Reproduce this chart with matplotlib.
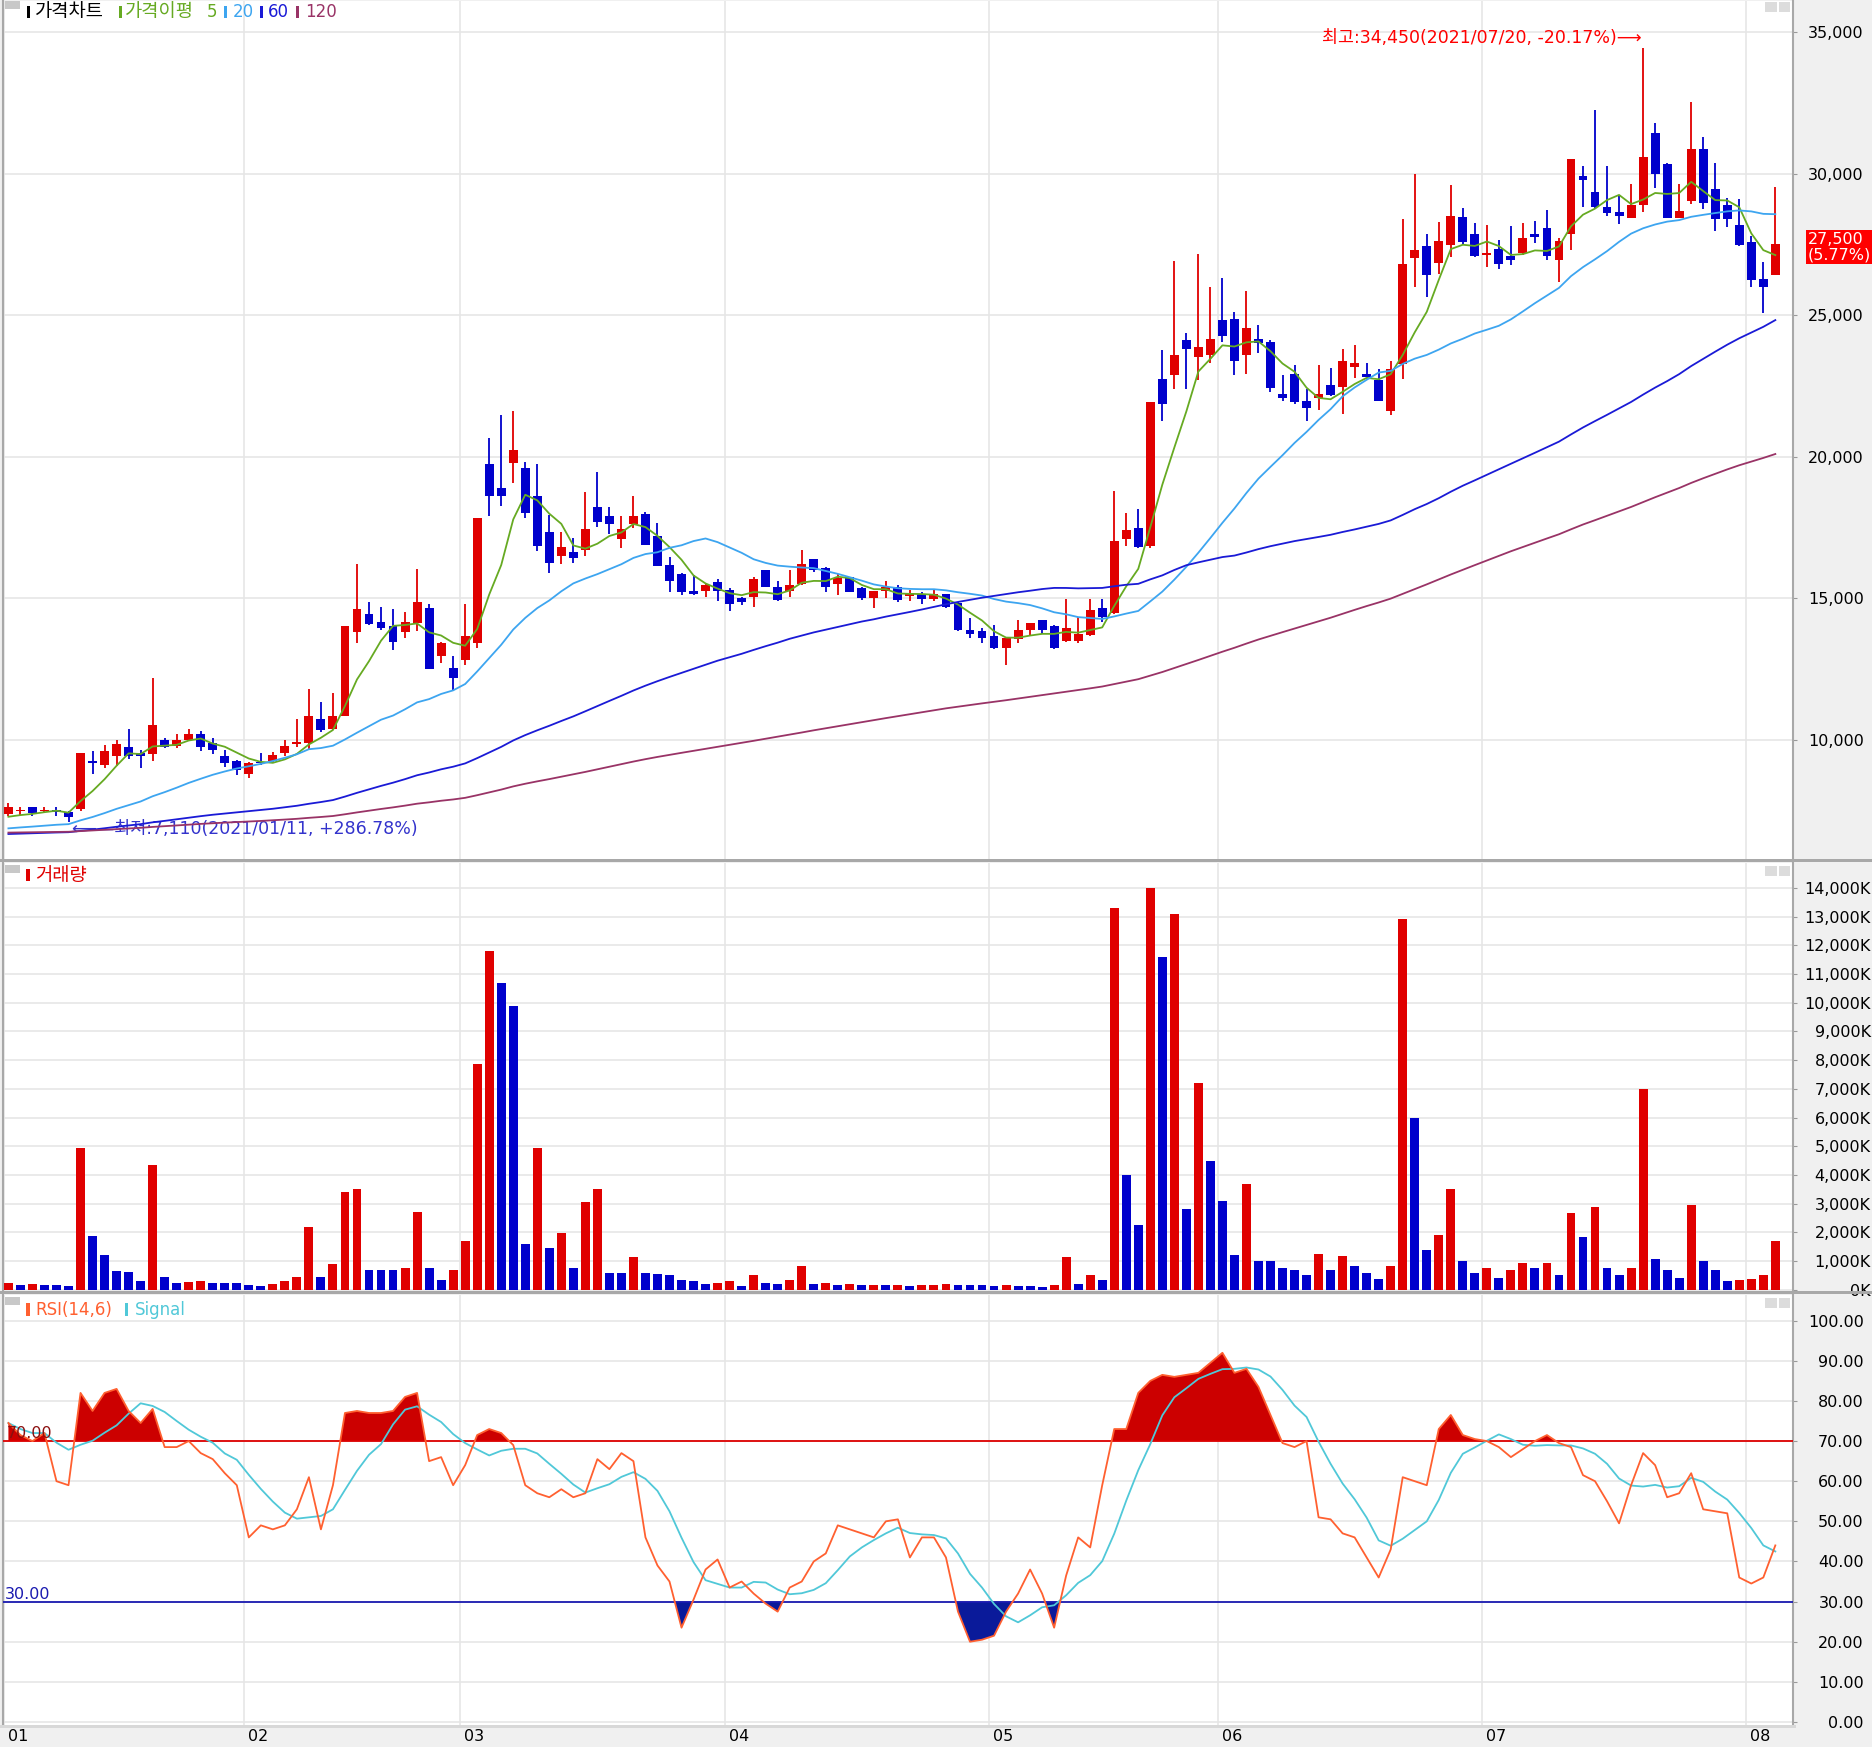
import numpy as np
import pandas as pd
import matplotlib
matplotlib.use("Agg")
import matplotlib.pyplot as plt
from matplotlib import font_manager
from matplotlib.patches import Rectangle

# ---- values -----------------------------------------------------------
month_labels = ["01", "02", "03", "04", "05", "06", "07", "08"]
month_start = [0, 20, 38, 60, 82, 101, 123, 145]  # bar index of first session

opens = [7400, 7480, 7620, 7490, 7540, 7460, 7570, 9230, 9130, 9450,
         9740, 9540, 9500, 10000, 9800, 10000, 10210, 9890, 9420, 9270,
         8810, 9240, 9270, 9540, 9870, 9890, 10730, 10380, 10850, 13830,
         14440, 14180, 14020, 13830, 14140, 14650, 12980, 12540, 12840, 13430,
         19750, 18900, 19790, 19590, 18600, 17350, 16490, 16640, 16700, 18210,
         17920, 17080, 17630, 17980, 17200, 16190, 15870, 15270, 15250, 15570,
         15310, 15000, 15040, 15990, 15420, 15250, 15510, 16380, 16070, 15510,
         15750, 15370, 15010, 15270, 15420, 15080, 15150, 14980, 15150, 14830,
         13900, 13840, 13660, 13250, 13560, 13870, 14220, 14030, 13500, 13500,
         13720, 14650, 14490, 17100, 17500, 16840, 22750, 22900, 24140, 23520,
         23580, 24820, 24880, 23580, 24170, 24070, 22210, 22920, 21960, 22090,
         22550, 22470, 23170, 22940, 22700, 21630, 23290, 27010, 27440, 26840,
         27490, 28460, 27870, 27130, 27340, 27100, 27190, 27870, 28090, 26950,
         27870, 29910, 29350, 28820, 28660, 28440, 28880, 31420, 30330, 28440,
         29050, 30860, 29470, 28900, 28200, 27580, 26280, 26420]
highs = [7770, 7650, 7640, 7620, 7640, 7500, 9540, 9600, 9810, 10000,
         10380, 9650, 12180, 10060, 10210, 10380, 10320, 10060, 9630, 9300,
         9220, 9530, 9560, 10000, 10730, 11800, 11330, 11650, 14020, 16200,
         14880, 14710, 14610, 14510, 16030, 14800, 13470, 12960, 14800, 17830,
         20680, 21490, 21630, 19820, 19760, 17950, 17350, 17140, 18740, 19460,
         18210, 17920, 18620, 18060, 17670, 16460, 15890, 15830, 15530, 15670,
         15360, 15040, 15750, 16010, 15630, 16010, 16700, 16400, 16100, 15870,
         15770, 15390, 15270, 15630, 15490, 15290, 15230, 15330, 15170, 14860,
         14300, 13970, 14070, 13590, 14250, 14120, 14220, 14070, 14980, 14340,
         14980, 14980, 18800, 18000, 18160, 21930, 23760, 26900, 24360, 27150,
         26000, 26300, 25130, 25870, 24670, 24140, 22900, 23230, 22400, 23240,
         23140, 23800, 23950, 23300, 23090, 23400, 28400, 30000, 27870, 28290,
         29590, 28780, 28260, 28200, 27670, 28140, 28260, 28310, 28700, 27730,
         30500, 30270, 32250, 30270, 29260, 29620, 34450, 31770, 30380, 29650,
         32520, 31300, 30390, 29150, 29090, 27810, 26870, 29530]
lows = [7300, 7360, 7330, 7420, 7330, 7110, 7500, 8800, 9010, 9090,
        9340, 9010, 9270, 9710, 9710, 9950, 9620, 9500, 9060, 8770,
        8660, 9120, 9210, 9420, 9770, 9680, 10300, 10360, 10850, 13440,
        14060, 13880, 13180, 13610, 13860, 12510, 12710, 11770, 12660, 13250,
        17910, 18270, 19080, 17850, 16680, 15890, 16200, 16250, 16490, 17510,
        17270, 16780, 17470, 16880, 16140, 15240, 15130, 15130, 15060, 14920,
        14540, 14760, 14700, 15390, 14920, 15060, 15490, 15930, 15240, 15120,
        15210, 14940, 14660, 15010, 14870, 14920, 14810, 14900, 14650, 13840,
        13600, 13410, 13220, 12640, 13430, 13680, 13740, 13220, 13470, 13410,
        13690, 14150, 14460, 16840, 16780, 16780, 21250, 22400, 22400, 22710,
        23300, 24070, 22900, 22930, 23660, 22300, 21960, 21880, 21280, 21650,
        22140, 21510, 22800, 22730, 21960, 21470, 22750, 25980, 25630, 26450,
        27050, 27520, 27050, 26690, 26630, 26790, 27140, 27540, 26950, 26190,
        27310, 28820, 28780, 28500, 28230, 28440, 28640, 29500, 28440, 28440,
        28940, 28740, 27990, 28110, 27460, 25980, 25070, 26420]
closes = [7620, 7500, 7420, 7510, 7470, 7270, 9540, 9200, 9600, 9850,
          9450, 9420, 10540, 9740, 10000, 10210, 9770, 9650, 9180, 8950,
          9180, 9180, 9480, 9790, 9920, 10850, 10360, 10850, 14020, 14610,
          14080, 13970, 13470, 14180, 14880, 12510, 13410, 12180, 13660, 17830,
          18600, 18620, 20240, 18010, 16840, 16250, 16820, 16430, 17450, 17710,
          17610, 17450, 17920, 16900, 16160, 15630, 15210, 15150, 15490, 15250,
          14820, 14860, 15690, 15420, 14950, 15490, 16220, 16010, 15390, 15720,
          15240, 15010, 15270, 15390, 14960, 15170, 14980, 15150, 14710, 13900,
          13740, 13600, 13250, 13590, 13880, 14120, 13900, 13250, 13940, 13740,
          14590, 14360, 17040, 17410, 16820, 21930, 21880, 23600, 23790, 23860,
          24170, 24260, 23390, 24540, 24010, 22440, 22090, 21940, 21720, 22210,
          22200, 23400, 23320, 22810, 21960, 23090, 26810, 27310, 26420, 27610,
          28520, 27580, 27100, 27200, 26810, 26950, 27730, 27750, 27100, 27610,
          30500, 29790, 28820, 28610, 28520, 28880, 30590, 29980, 28440, 28680,
          30860, 28960, 28380, 28380, 27480, 26250, 26000, 27500]

# volume in thousands of shares
volume_k = [250, 180, 200, 150, 150, 130, 4950, 1880, 1200, 650,
            600, 300, 4330, 460, 250, 260, 300, 250, 250, 240,
            150, 120, 200, 300, 460, 2200, 460, 900, 3400, 3500,
            700, 700, 680, 750, 2700, 750, 330, 670, 1700, 7875,
            11800, 10700, 9875, 1580, 4950, 1460, 1960, 750, 3040, 3500,
            580, 580, 1125, 580, 560, 500, 330, 300, 200, 250,
            300, 120, 500, 250, 200, 330, 830, 200, 250, 170,
            200, 150, 170, 150, 170, 120, 170, 180, 200, 170,
            150, 150, 140, 170, 130, 120, 100, 150, 1125, 200,
            500, 330, 13300, 4000, 2250, 14000, 11600, 13100, 2800, 7200,
            4500, 3080, 1200, 3700, 1000, 1000, 750, 670, 500, 1250,
            670, 1170, 830, 580, 375, 830, 12900, 6000, 1375, 1920,
            3500, 1000, 580, 750, 420, 700, 920, 750, 920, 500,
            2670, 1830, 2875, 750, 500, 750, 7000, 1080, 670, 420,
            2960, 1000, 670, 300, 330, 375, 500, 1700]

rsi = [74.5, 71.5, 70, 72, 60, 59, 82, 77.5, 82, 83,
       77.5, 74.5, 78, 68.5, 68.5, 70, 67, 65.5, 62, 59,
       46, 49, 48, 49, 53, 61, 48, 59, 77, 77.5,
       77, 77, 77.5, 81, 82, 65, 66, 59, 64, 71.5,
       73, 72, 69, 59, 57, 56, 58, 56, 57, 65.5,
       63, 67, 65, 46, 39, 35, 23.5, 30.5, 38, 40.5,
       33.5, 35, 32, 29.5, 27.5, 33.5, 35, 40, 42, 49,
       48, 47, 46, 50, 50.5, 41, 46, 46, 41, 27.5,
       20, 20.5, 21.5, 27.5, 32, 38, 32, 23.5, 36.5, 46,
       43.5, 59, 73, 73, 82, 85, 86.5, 86, 86.5, 87,
       89.5, 92, 87, 88, 83.5, 76.5, 69.5, 68.5, 70, 51,
       50.5, 47, 46, 41, 36, 43, 61, 60, 59, 73,
       76.5, 71.5, 70.5, 70, 68.5, 66, 68, 70, 71.5, 69.5,
       68.5, 61.5, 60, 55, 49.5, 59, 67, 64, 56, 57,
       62, 53, 52.5, 52, 36, 34.5, 36, 44]

ma_periods = [5, 20, 60, 120]
ma_first = [7290, 6880, 6680, 6730]  # MA level on the first bar (history starts earlier)
ma_colors = ["#66aa22", "#3da5f0", "#1a1ad6", "#993366"]
high_date = "2021/07/20"
low_date = "2021/01/11"

RED = "#e00000"
BLUE = "#0000cc"
GRID = "#e6e6e6"
W, H = 1872, 1747

names = {f.name for f in font_manager.fontManager.ttflist}
if "Liberation Sans Narrow" in names:
    BASE = "Liberation Sans Narrow"
    FS, TS, LS, NS = 16, 15, 17, 15
else:
    BASE = "DejaVu Sans"
    FS, TS, LS, NS = 12.5, 11.5, 13.5, 12
plt.rcParams["font.family"] = [BASE, "Noto Sans CJK KR", "DejaVu Sans"]


def moving_average(period, first_value):
    prior = (period * first_value - closes[0]) / (period - 1)
    s = pd.Series([prior] * (period - 1) + closes)
    return s.rolling(period).mean().to_numpy()[period - 1:]


n = len(closes)
x = np.arange(n)
o = np.array(opens, float)
c = np.array(closes, float)
hi = np.array(highs, float)
lo = np.array(lows, float)
vol = np.array(volume_k, float)
rsi_arr = np.array(rsi, float)
signal = pd.Series(rsi_arr).rolling(6, min_periods=1).mean().to_numpy()
grid_x = [m - 0.4 for m in month_start]

fig = plt.figure(figsize=(W / 100, H / 100), dpi=100, facecolor="#f0f0f0")


def px_axes(x0, y0, x1, y1):
    return fig.add_axes([x0 / W, 1 - y1 / H, (x1 - x0) / W, (y1 - y0) / H])


def label(xp, yp, s, color, size=None, **kw):
    fig.text(xp / W, 1 - yp / H, s, color=color, fontsize=size or LS,
             va="center", ha="left", **kw)


def box(x0, y0, x1, y1, color):
    fig.add_artist(Rectangle((x0 / W, 1 - y1 / H), (x1 - x0) / W, (y1 - y0) / H,
                             transform=fig.transFigure, facecolor=color,
                             edgecolor="none"))


ax_p = px_axes(3, 1, 1793, 859)
ax_v = px_axes(3, 863, 1793, 1291)
ax_r = px_axes(3, 1295, 1793, 1726)

for ax in (ax_p, ax_v, ax_r):
    ax.set_facecolor("white")
    ax.set_xlim(-0.45, 148.47)
    ax.set_xticks(grid_x)
    ax.tick_params(axis="x", length=0, labelbottom=False)
    ax.yaxis.tick_right()
    ax.grid(True, color=GRID, lw=1.2, zorder=0)
    ax.set_axisbelow(True)
    for side in ("top", "bottom"):
        ax.spines[side].set_visible(False)
    for side in ("left", "right"):
        ax.spines[side].set_color("#a8a8a8")
        ax.spines[side].set_linewidth(1.5)

# ---- price panel --------------------------------------------------------
ax_p.set_ylim(5798, 36095)
colors = np.where(c >= o, RED, BLUE)
ax_p.vlines(x, lo, hi, colors=colors, lw=1.3, zorder=2)
body = np.maximum(np.abs(c - o), 45)
ax_p.bar(x, body, bottom=np.minimum(o, c), width=0.74, color=colors, lw=0, zorder=3)
for p, first, col in zip(ma_periods, ma_first, ma_colors):
    ax_p.plot(x, moving_average(p, first), color=col, lw=1.3, zorder=4)

price_ticks = list(range(10000, 35001, 5000))
ax_p.set_yticks(price_ticks, labels=[f"{v:,}" for v in price_ticks])
ax_p.tick_params(axis="y", length=3, color="#999999", pad=48, labelsize=TS)
for t in ax_p.get_yticklabels():
    t.set_ha("right")

i_high = int(np.argmax(hi))
i_low = int(np.argmin(lo))
last = closes[-1]
ax_p.annotate(f"최고:{int(hi[i_high]):,}({high_date}, {(last / hi[i_high] - 1) * 100:+.2f}%)⟶",
              xy=(i_high, hi[i_high]), xytext=(-1, 10), textcoords="offset pixels",
              ha="right", va="center", color="#ff0000", fontsize=FS)
ax_p.annotate(f"⟵—최저:{int(lo[i_low]):,}({low_date}, {(last / lo[i_low] - 1) * 100:+.2f}%)",
              xy=(i_low, lo[i_low]), xytext=(3, -7), textcoords="offset pixels",
              ha="left", va="center", color="#3333cc", fontsize=FS)
pct = (closes[-1] / closes[-2] - 1) * 100
ax_p.annotate(f"{last:,}\n({pct:.2f}%)", xy=(1, last), xycoords=("axes fraction", "data"),
              xytext=(15, 12), textcoords="offset pixels", ha="left", va="top",
              color="white", fontsize=TS, linespacing=1.0, annotation_clip=False,
              bbox=dict(boxstyle="square,pad=0.12", fc="#ff0000", ec="none"))

# ---- volume panel -------------------------------------------------------
ax_v.set_ylim(-45, 14868)
prev = np.concatenate([[0], vol[:-1]])
vcolors = np.where(vol > prev, RED, BLUE)
ax_v.bar(x, vol, width=0.74, color=vcolors, lw=0, zorder=3)
vol_ticks = list(range(0, 14001, 1000))
ax_v.set_yticks(vol_ticks, labels=[f"{v:,}K" for v in vol_ticks])
ax_v.tick_params(axis="y", length=3, color="#999999", pad=53, labelsize=TS)
for t in ax_v.get_yticklabels():
    t.set_ha("right")

# ---- RSI panel ----------------------------------------------------------
ax_r.set_ylim(-1, 106.4)
ax_r.fill_between(x, rsi_arr, 70, where=rsi_arr >= 70, interpolate=True,
                  color="#cc0000", lw=0, zorder=2)
ax_r.fill_between(x, rsi_arr, 30, where=rsi_arr <= 30, interpolate=True,
                  color="#0a1a9a", lw=0, zorder=2)
ax_r.axhline(70, color="#dd0000", lw=1.3, zorder=3)
ax_r.axhline(30, color="#1a1ab0", lw=1.3, zorder=3)
ax_r.plot(x, signal, color="#50c8d8", lw=1.3, zorder=4)
ax_r.plot(x, rsi_arr, color="#ff6030", lw=1.3, zorder=5)
rsi_ticks = list(range(0, 101, 10))
ax_r.set_yticks(rsi_ticks, labels=[f"{v:.2f}" for v in rsi_ticks])
ax_r.tick_params(axis="y", length=3, color="#999999", pad=48, labelsize=TS)
for t in ax_r.get_yticklabels():
    t.set_ha("right")
ax_r.text(0.002, 70, "70.00", transform=ax_r.get_yaxis_transform(), color="#8b1010",
          fontsize=TS, va="bottom", ha="left", zorder=6)
ax_r.text(0.001, 30, "30.00", transform=ax_r.get_yaxis_transform(), color="#1a1ab0",
          fontsize=TS, va="bottom", ha="left", zorder=6)

for gx, lab in zip(grid_x, month_labels):
    ax_r.annotate(lab, xy=(gx, 0), xycoords=("data", "axes fraction"),
                  xytext=(4, -3), textcoords="offset pixels", ha="left", va="top",
                  fontsize=TS, color="black", annotation_clip=False)

# ---- panel chrome -------------------------------------------------------
box(0, 859, W, 862, "#a8a8a8")
box(0, 1291, W, 1294, "#a8a8a8")
box(0, 1725, 1796, 1728, "#d8d8d8")
for top in (1, 865, 1297):
    box(5, top, 20, top + 8, "#c8c8c8")
    box(1765, top + 1, 1777, top + 11, "#dcdcdc")
    box(1779, top + 1, 1790, top + 11, "#dcdcdc")

box(27, 6, 30, 18, "black")
label(35, 12, "가격차트", "black")
box(119, 6, 122, 18, ma_colors[0])
label(125, 12, "가격이평", ma_colors[0])
label(207, 12, "5", ma_colors[0], NS)
box(224, 6, 227, 18, ma_colors[1])
label(233, 12, "20", ma_colors[1], NS)
box(260, 6, 263, 18, ma_colors[2])
label(268, 12, "60", ma_colors[2], NS)
box(296, 6, 299, 18, ma_colors[3])
label(305, 12, "120", ma_colors[3], NS)

box(26, 869, 30, 881, RED)
label(35, 875, "거래량", RED)

box(26, 1303, 30, 1316, "#ff6030")
label(35, 1310, "RSI(14,6)", "#ff6030", NS)
box(125, 1303, 128, 1316, "#50c8d8")
label(135, 1310, "Signal", "#50c8d8", NS)

fig.savefig("out.png", dpi=100, facecolor=fig.get_facecolor())
